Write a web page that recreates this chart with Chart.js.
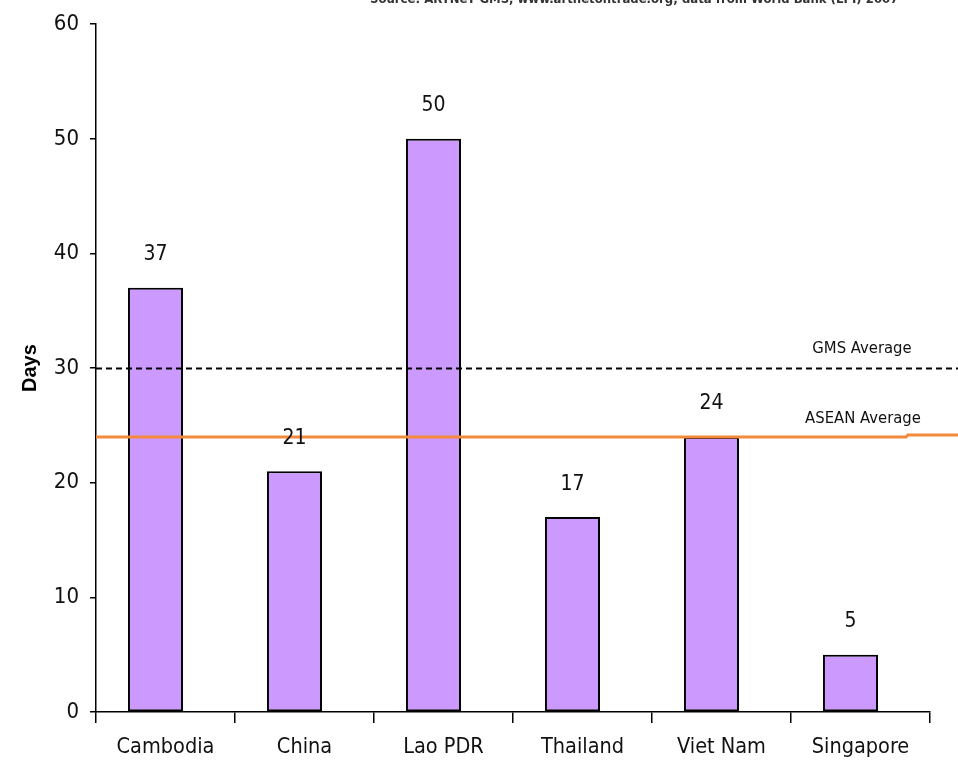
<!DOCTYPE html>
<html lang="en">
<head>
    <meta charset="UTF-8">
    <title>Days - GMS / ASEAN</title>
    <script src="https://cdn.jsdelivr.net/npm/chart.js"></script>
    <style>
        body { margin: 0; background: #ffffff; }
        #wrap { width: 958px; height: 776px; }
    </style>
</head>
<body>
    <div id="wrap"><canvas id="daysChart" width="958" height="776"></canvas></div>

    <script>
        // dados
        const countries = ['Cambodia', 'China', 'Lao PDR', 'Thailand', 'Viet Nam', 'Singapore'];
        const days = [37, 21, 50, 17, 24, 5];
        const yTicks = [0, 10, 20, 30, 40, 50, 60];
        const gmsAverage = 30;
        const aseanAverage = 24;
        const sourceNote = 'Source: ARTNeT GMS, www.artnetontrade.org; data from World Bank (LPI) 2007';

        const narrow = "'DejaVu Sans Condensed', 'Liberation Sans Narrow', 'Arial Narrow', 'Liberation Sans', Arial, sans-serif";

        // linhas de média + rótulos de valor
        const overlay = {
            id: 'overlay',
            afterDatasetsDraw(chart) {
                const ctx = chart.ctx;
                const y = chart.scales.y;
                const area = chart.chartArea;
                const w = chart.width;

                ctx.save();
                // GMS average - tracejada
                const yg = Math.round(y.getPixelForValue(gmsAverage)) + 0.5;
                ctx.strokeStyle = '#000';
                ctx.lineWidth = 2;
                ctx.setLineDash([6, 4]);
                ctx.beginPath();
                ctx.moveTo(area.left, yg);
                ctx.lineTo(w, yg);
                ctx.stroke();
                ctx.setLineDash([]);

                // ASEAN average - laranja (pequeno degrau perto da borda, como no original)
                const ya = Math.round(y.getPixelForValue(aseanAverage));
                ctx.strokeStyle = '#F28A3C';
                ctx.lineWidth = 3;
                ctx.beginPath();
                ctx.moveTo(area.left, ya);
                ctx.lineTo(w - 52, ya);
                ctx.lineTo(w - 50, ya - 2);
                ctx.lineTo(w, ya - 2);
                ctx.stroke();

                ctx.fillStyle = '#111';
                ctx.font = '16.5px ' + narrow;
                ctx.textAlign = 'center';
                ctx.textBaseline = 'middle';
                ctx.fillText('GMS Average', 862, yg - 20);
                ctx.fillText('ASEAN Average', 863, ya - 18);

                // valores acima das barras
                ctx.font = '21px ' + narrow;
                const meta = chart.getDatasetMeta(0);
                meta.data.forEach((bar, i) => {
                    ctx.fillText(String(days[i]), bar.x, bar.y - 33);
                });

                // nota de fonte cortada no topo
                ctx.font = 'bold 13px ' + narrow;
                ctx.textAlign = 'left';
                ctx.textBaseline = 'alphabetic';
                ctx.fillStyle = '#333';
                ctx.fillText(sourceNote, 370, 3);
                ctx.restore();
            }
        };

        new Chart(document.getElementById('daysChart'), {
            type: 'bar',
            data: {
                labels: countries,
                datasets: [{
                    data: days,
                    backgroundColor: '#CC99FF',
                    borderColor: '#000',
                    borderWidth: 2,
                    borderSkipped: false,
                    // barras levemente deslocadas à esquerda do centro da categoria
                    categoryPercentage: 0.288,
                    barPercentage: 2.75
                }, {
                    // série vazia só para reservar o segundo espaço do grupo
                    data: countries.map(() => null),
                    categoryPercentage: 0.288,
                    barPercentage: 2.75
                }]
            },
            options: {
                responsive: false,
                animation: false,
                layout: { padding: { top: 22, right: 28, left: 0, bottom: 0 } },
                plugins: {
                    legend: { display: false },
                    tooltip: { enabled: false }
                },
                scales: {
                    x: {
                        grid: { drawOnChartArea: false, offset: true, tickLength: 11, color: '#000', lineWidth: 1.5 },
                        border: { color: '#000', width: 1.5 },
                        ticks: { color: '#111', font: { family: narrow, size: 21.5 }, padding: 12 },
                        afterFit(scale) { scale.height = 64; }
                    },
                    y: {
                        min: 0,
                        max: 60,
                        afterBuildTicks(scale) { scale.ticks = yTicks.map(v => ({ value: v })); },
                        grid: { drawOnChartArea: false, tickLength: 6, color: '#000', lineWidth: 1.5 },
                        border: { color: '#000', width: 1.5 },
                        ticks: { color: '#111', font: { family: narrow, size: 22 }, padding: 11 },
                        title: {
                            display: true,
                            text: 'Days',
                            color: '#000',
                            font: { family: "'Liberation Sans', Arial, sans-serif", size: 20, weight: 'bold' },
                            padding: { top: 18, bottom: 0 }
                        },
                        afterFit(scale) { scale.width = 96; }
                    }
                }
            },
            plugins: [overlay]
        });
    </script>
</body>
</html>
